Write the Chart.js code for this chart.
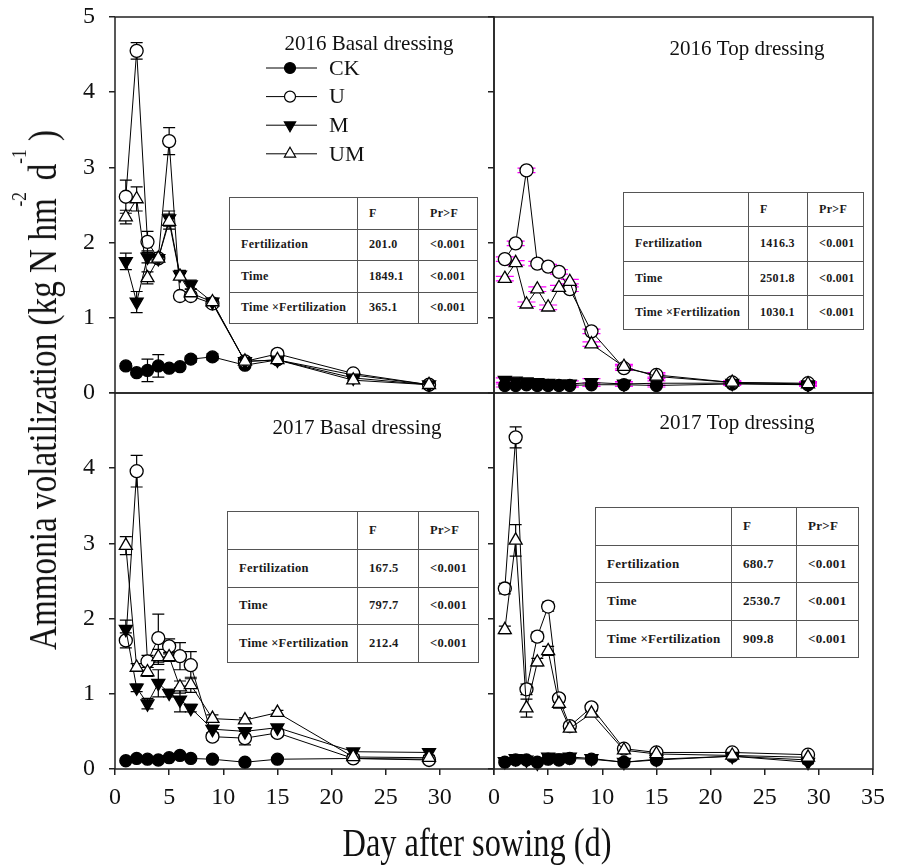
<!DOCTYPE html>
<html>
<head>
<meta charset="utf-8">
<script src="https://cdn.jsdelivr.net/npm/chart.js@4.4.1/dist/chart.umd.min.js"></script>
<style>
  body { margin: 0; background: #fff; }
  #wrap { position: relative; width: 898px; height: 865px; overflow: hidden; font-family: 'Liberation Serif', 'DejaVu Serif', serif; color: #111; }
  #wrap canvas { position: absolute; left: 0; top: 0; }
  .stat { position: absolute; border-collapse: collapse; table-layout: fixed; background: #fff; font-family: 'Liberation Serif', serif; font-weight: bold; color: #1a1a1a; letter-spacing: 0.3px; }
  .stat td { border: 1.5px solid #555; padding: 0 0 0 11px; white-space: nowrap; overflow: hidden; box-sizing: border-box; }
  .axtitle { position: absolute; font-size: 40px; line-height: 40px; white-space: nowrap; transform-origin: 0 0; }
  .axtitle sup { font-size: 21px; line-height: 0; vertical-align: 0; position: relative; top: -30px; }
  .axtitle sup.s1 { left: -10px; margin-right: -6px; }
</style>
</head>
<body>
<div id="wrap">
  <canvas id="c1" width="898" height="865"></canvas>
  <canvas id="c2" width="898" height="865"></canvas>
  <canvas id="c3" width="898" height="865"></canvas>
  <canvas id="c4" width="898" height="865"></canvas>
  <div id="ytitle" class="axtitle" style="left:43px; top:390px; transform: rotate(-90deg) scaleX(0.83) translate(-50%, -50%);">Ammonia volatilization (kg N hm<sup class="s1">-2</sup> d<sup>-1</sup> )</div>
  <div id="xtitle" class="axtitle" style="left:477px; top:843px; transform: scaleX(0.81) translate(-50%, -50%);">Day after sowing (d)</div>
</div>
<script>
'use strict';

// sampling days and axis ticks
var days = [1, 2, 3, 4, 5, 6, 7, 9, 12, 15, 22, 29];
var xTicks = [0, 5, 10, 15, 20, 25, 30, 35];
var yTicks = [0, 1, 2, 3, 4, 5];
var seriesNames = ['CK', 'U', 'M', 'UM'];

// 2016 basal dressing
var ckBasal16 = [0.36, 0.27, 0.30, 0.36, 0.33, 0.35, 0.45, 0.48, 0.37, 0.44, 0.24, 0.11];
var uBasal16 = [2.61, 4.55, 2.01, 1.79, 3.35, 1.29, 1.29, 1.19, 0.42, 0.52, 0.26, 0.11];
var mBasal16 = [1.75, 1.21, 1.81, 1.79, 2.32, 1.57, 1.44, 1.21, 0.42, 0.44, 0.20, 0.11];
var umBasal16 = [2.34, 2.58, 1.53, 1.79, 2.28, 1.55, 1.33, 1.21, 0.42, 0.44, 0.17, 0.11];
var ckBasal16Err = [0.03, 0.03, 0.15, 0.15, 0.03, 0.03, 0.04, 0.04, 0.03, 0.03, 0.03, 0.02];
var uBasal16Err = [0.22, 0.11, 0.14, 0.05, 0.18, 0.05, 0.05, 0.05, 0.05, 0.05, 0.03, 0.03];
var mBasal16Err = [0.11, 0.14, 0.08, 0.05, 0.10, 0.06, 0.06, 0.05, 0.03, 0.03, 0.03, 0.03];
var umBasal16Err = [0.09, 0.16, 0.08, 0.05, 0.10, 0.04, 0.05, 0.05, 0.03, 0.03, 0.03, 0.03];

// 2016 top dressing
var ckTop16 = [0.10, 0.10, 0.11, 0.10, 0.10, 0.10, 0.10, 0.11, 0.11, 0.10, 0.12, 0.11];
var uTop16 = [1.78, 1.99, 2.96, 1.72, 1.68, 1.61, 1.38, 0.82, 0.33, 0.24, 0.14, 0.13];
var mTop16 = [0.17, 0.16, 0.15, 0.14, 0.13, 0.12, 0.12, 0.14, 0.12, 0.13, 0.13, 0.11];
var umTop16 = [1.52, 1.73, 1.18, 1.38, 1.14, 1.40, 1.48, 0.65, 0.35, 0.22, 0.14, 0.12];
var ckTop16Err = [0.02, 0.02, 0.02, 0.02, 0.02, 0.02, 0.02, 0.02, 0.02, 0.02, 0.02, 0.02];
var uTop16Err = [0.03, 0.03, 0.03, 0.03, 0.03, 0.03, 0.03, 0.03, 0.03, 0.03, 0.02, 0.02];
var mTop16Err = [0.03, 0.03, 0.03, 0.03, 0.03, 0.04, 0.04, 0.05, 0.03, 0.03, 0.02, 0.02];
var umTop16Err = [0.03, 0.03, 0.03, 0.03, 0.03, 0.03, 0.03, 0.03, 0.03, 0.03, 0.02, 0.02];

// 2017 basal dressing
var ckBasal17 = [0.11, 0.14, 0.13, 0.12, 0.15, 0.18, 0.14, 0.13, 0.09, 0.13, 0.14, 0.13];
var uBasal17 = [1.71, 3.96, 1.43, 1.74, 1.63, 1.50, 1.38, 0.43, 0.41, 0.48, 0.14, 0.12];
var mBasal17 = [1.86, 1.08, 0.87, 1.14, 1.01, 0.92, 0.81, 0.53, 0.50, 0.55, 0.23, 0.22];
var umBasal17 = [2.97, 1.35, 1.29, 1.49, 1.49, 1.09, 1.12, 0.67, 0.65, 0.75, 0.16, 0.15];
var ckBasal17Err = [0.02, 0.02, 0.02, 0.02, 0.02, 0.02, 0.02, 0.02, 0.02, 0.02, 0.02, 0.02];
var uBasal17Err = [0.10, 0.21, 0.08, 0.32, 0.10, 0.18, 0.18, 0.05, 0.09, 0.05, 0.03, 0.03];
var mBasal17Err = [0.12, 0.05, 0.07, 0.18, 0.05, 0.16, 0.05, 0.05, 0.05, 0.04, 0.04, 0.05];
var umBasal17Err = [0.12, 0.05, 0.06, 0.10, 0.06, 0.08, 0.10, 0.05, 0.03, 0.03, 0.03, 0.03];

// 2017 top dressing
var ckTop17 = [0.09, 0.12, 0.12, 0.09, 0.13, 0.12, 0.14, 0.13, 0.09, 0.12, 0.17, 0.12];
var uTop17 = [2.40, 4.41, 1.06, 1.76, 2.16, 0.94, 0.57, 0.82, 0.27, 0.22, 0.22, 0.19];
var mTop17 = [0.10, 0.14, 0.12, 0.08, 0.16, 0.15, 0.16, 0.14, 0.09, 0.13, 0.17, 0.09];
var umTop17 = [1.85, 3.04, 0.81, 1.42, 1.57, 0.87, 0.54, 0.74, 0.25, 0.20, 0.18, 0.155];
var ckTop17Err = [0.02, 0.02, 0.02, 0.02, 0.02, 0.02, 0.02, 0.02, 0.02, 0.02, 0.02, 0.02];
var uTop17Err = [0.07, 0.14, 0.07, 0.06, 0.06, 0.05, 0.04, 0.04, 0.03, 0.03, 0.03, 0.03];
var mTop17Err = [0.02, 0.02, 0.02, 0.02, 0.02, 0.02, 0.02, 0.02, 0.02, 0.02, 0.02, 0.02];
var umTop17Err = [0.05, 0.21, 0.12, 0.05, 0.06, 0.06, 0.04, 0.03, 0.03, 0.03, 0.03, 0.03];

// ANOVA tables
var statHead = ['', 'F', 'Pr>F'];
var statRows = ['Fertilization', 'Time', 'Time \u00d7Fertilization'];
var fBasal16 = [201.0, 1849.1, 365.1];
var fTop16 = [1416.3, 2501.8, 1030.1];
var fBasal17 = [167.5, 797.7, 212.4];
var fTop17 = [680.7, 2530.7, 909.8];
var pValue = '<0.001';

var serif = "'Liberation Serif', 'DejaVu Serif', serif";

// marker look per series (CK, U, M, UM)
var looks = [
  { pointStyle: 'circle', pointRadius: 6, pointBackgroundColor: '#000', pointRotation: 0, order: 4 },
  { pointStyle: 'circle', pointRadius: 6.5, pointBackgroundColor: '#fff', pointRotation: 0, order: 3 },
  { pointStyle: 'triangle', pointRadius: 7.5, pointBackgroundColor: '#000', pointRotation: 180, order: 2 },
  { pointStyle: 'triangle', pointRadius: 7.5, pointBackgroundColor: '#fff', pointRotation: 0, order: 1 }
];

//draws error bars under the markers, the frame, panel title and legend
var deco = {
  id: 'deco',
  beforeDatasetsDraw: function (chart, args, o) {
    var ctx = chart.ctx;
    var xs = chart.scales.x;
    var ys = chart.scales.y;
    ctx.save();
    ctx.strokeStyle = o.errColor;
    ctx.lineWidth = 1.2;
    chart.data.datasets.forEach(function (ds) {
      ds.err.forEach(function (e, i) {
        var v = ds.data[i].y;
        var px = xs.getPixelForValue(ds.data[i].x);
        var top = ys.getPixelForValue(v + e);
        var bot = ys.getPixelForValue(v - e);
        ctx.beginPath();
        ctx.moveTo(px, top);
        ctx.lineTo(px, bot);
        ctx.moveTo(px - o.cap, top);
        ctx.lineTo(px + o.cap, top);
        ctx.moveTo(px - o.cap, bot);
        ctx.lineTo(px + o.cap, bot);
        ctx.stroke();
      });
    });
    ctx.restore();
  },
  afterDraw: function (chart, args, o) {
    var ctx = chart.ctx;
    var a = chart.chartArea;
    ctx.save();
    ctx.strokeStyle = '#222';
    ctx.lineWidth = 1.5;
    ctx.strokeRect(a.left, a.top, a.right - a.left, a.bottom - a.top);

    ctx.fillStyle = '#111';
    ctx.font = '21px ' + serif;
    ctx.textAlign = 'center';
    ctx.textBaseline = 'alphabetic';
    ctx.fillText(o.title, o.titleX, o.titleY);

    if (o.legend) {
      ctx.font = '22px ' + serif;
      ctx.textAlign = 'left';
      ctx.textBaseline = 'middle';
      seriesNames.forEach(function (name, k) {
        var y = 68 + k * 28.6;
        ctx.strokeStyle = '#000';
        ctx.lineWidth = 1;
        ctx.beginPath();
        ctx.moveTo(266, y);
        ctx.lineTo(317, y);
        ctx.stroke();
        var lk = looks[k];
        ctx.fillStyle = lk.pointBackgroundColor;
        ctx.lineWidth = 1.2;
        ctx.beginPath();
        if (lk.pointStyle === 'circle') {
          ctx.arc(290, y, 5.5, 0, Math.PI * 2);
        } else {
          var r = 6.5;
          var s = lk.pointRotation ? -1 : 1;
          ctx.moveTo(290, y - s * r);
          ctx.lineTo(290 + r * 0.866, y + s * r / 2);
          ctx.lineTo(290 - r * 0.866, y + s * r / 2);
          ctx.closePath();
        }
        ctx.fill();
        ctx.stroke();
        ctx.fillStyle = '#111';
        ctx.fillText(name, 329, y + 1);
      });
    }
    ctx.restore();
  }
};

function makePanel(id, area, sets, errs, opt) {
  var tickFont = { family: serif, size: 24 };
  var datasets = sets.map(function (vals, k) {
    var lk = looks[k];
    return {
      label: seriesNames[k],
      data: days.map(function (d, i) { return { x: d, y: vals[i] }; }),
      err: errs[k],
      borderColor: '#000',
      borderWidth: 1,
      tension: 0,
      clip: false,
      pointStyle: lk.pointStyle,
      pointRadius: lk.pointRadius,
      pointRotation: lk.pointRotation,
      pointBackgroundColor: lk.pointBackgroundColor,
      pointBorderColor: '#000',
      pointBorderWidth: 1.3,
      order: lk.order
    };
  });

  new Chart(document.getElementById(id), {
    type: 'line',
    data: { datasets: datasets },
    plugins: [deco],
    options: {
      responsive: false,
      animation: false,
      devicePixelRatio: 1,
      layout: {
        autoPadding: false,
        padding: { left: area.left - 80, top: area.top, right: 898 - area.right, bottom: 865 - area.bottom - 60 }
      },
      plugins: {
        legend: { display: false },
        tooltip: { enabled: false },
        deco: opt.deco
      },
      scales: {
        x: {
          type: 'linear',
          min: 0,
          max: 35,
          afterBuildTicks: function (s) { s.ticks = xTicks.map(function (v) { return { value: v }; }); },
          afterFit: function (s) { s.height = 60; s.paddingLeft = 0; s.paddingRight = 0; },
          border: { display: false },
          grid: { display: opt.showX, drawOnChartArea: false, drawTicks: true, tickLength: 6, color: '#222', lineWidth: 1.5 },
          ticks: {
            display: opt.showX,
            autoSkip: false,
            maxRotation: 0,
            padding: 8,
            color: '#111',
            font: tickFont,
            callback: function (v) { return opt.xLabels.indexOf(v) >= 0 ? String(v) : ''; }
          }
        },
        y: {
          min: 0,
          max: 5,
          afterBuildTicks: function (s) { s.ticks = yTicks.map(function (v) { return { value: v }; }); },
          afterFit: function (s) { s.width = 80; s.paddingTop = 0; s.paddingBottom = 0; },
          border: { display: false },
          grid: { display: true, drawOnChartArea: false, drawTicks: true, tickLength: 6, color: '#222', lineWidth: 1.5 },
          ticks: {
            padding: 14,
            color: '#111',
            font: tickFont,
            callback: function (v) { return opt.yLabels.indexOf(v) >= 0 ? String(v) : ''; }
          }
        }
      }
    }
  });
}

function makeTable(vals, box) {
  var t = document.createElement('table');
  t.className = 'stat';
  t.style.left = box.left + 'px';
  t.style.top = box.top + 'px';
  t.style.width = box.cols.reduce(function (a, b) { return a + b; }, 0) + 'px';
  t.style.fontSize = box.font + 'px';
  var rows = [statHead].concat(statRows.map(function (r, i) { return [r, vals[i].toFixed(1), pValue]; }));
  rows.forEach(function (r) {
    var tr = t.insertRow();
    r.forEach(function (c, ci) {
      var td = tr.insertCell();
      td.textContent = c;
      td.style.width = box.cols[ci] + 'px';
      td.style.height = box.rowH + 'px';
    });
  });
  document.getElementById('wrap').appendChild(t);
}

var panelL = 115, panelM = 494, panelR = 873;
var panelT = 17, panelC = 393, panelB = 769;

makePanel('c1', { left: panelL, top: panelT, right: panelM, bottom: panelC },
  [ckBasal16, uBasal16, mBasal16, umBasal16],
  [ckBasal16Err, uBasal16Err, mBasal16Err, umBasal16Err],
  { showX: false, xLabels: [], yLabels: [0, 1, 2, 3, 4, 5],
    deco: { title: '2016 Basal dressing', titleX: 369, titleY: 50, legend: true, errColor: '#000', cap: 6 } });

makePanel('c2', { left: panelM, top: panelT, right: panelR, bottom: panelC },
  [ckTop16, uTop16, mTop16, umTop16],
  [ckTop16Err, uTop16Err, mTop16Err, umTop16Err],
  { showX: false, xLabels: [], yLabels: [],
    deco: { title: '2016 Top dressing', titleX: 747, titleY: 55, legend: false, errColor: '#ff00ff', cap: 9 } });

makePanel('c3', { left: panelL, top: panelC, right: panelM, bottom: panelB },
  [ckBasal17, uBasal17, mBasal17, umBasal17],
  [ckBasal17Err, uBasal17Err, mBasal17Err, umBasal17Err],
  { showX: true, xLabels: [0, 5, 10, 15, 20, 25, 30], yLabels: [0, 1, 2, 3, 4],
    deco: { title: '2017 Basal dressing', titleX: 357, titleY: 434, legend: false, errColor: '#000', cap: 6 } });

makePanel('c4', { left: panelM, top: panelC, right: panelR, bottom: panelB },
  [ckTop17, uTop17, mTop17, umTop17],
  [ckTop17Err, uTop17Err, mTop17Err, umTop17Err],
  { showX: true, xLabels: [0, 5, 10, 15, 20, 25, 30, 35], yLabels: [],
    deco: { title: '2017 Top dressing', titleX: 737, titleY: 429, legend: false, errColor: '#000', cap: 6 } });

makeTable(fBasal16, { left: 229, top: 197, cols: [128, 61, 59], rowH: 31.5, font: 12 });
makeTable(fTop16, { left: 623, top: 192, cols: [125, 59, 56], rowH: 34.25, font: 12 });
makeTable(fBasal17, { left: 227, top: 511, cols: [130, 61, 60], rowH: 37.75, font: 12.5 });
makeTable(fTop17, { left: 595, top: 507, cols: [136, 65, 62], rowH: 37.5, font: 13 });
</script>
</body>
</html>
